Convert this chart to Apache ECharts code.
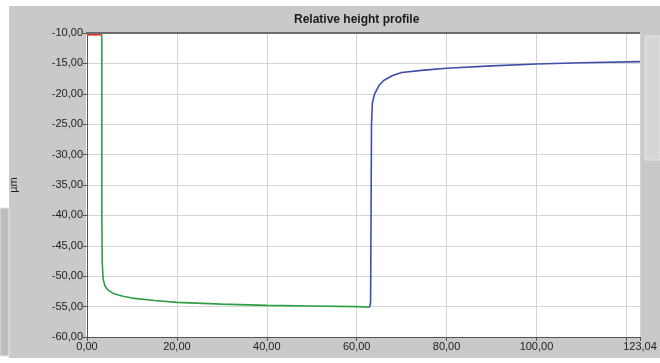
<!DOCTYPE html>
<html><head><meta charset="utf-8">
<script src="https://cdn.jsdelivr.net/npm/echarts@6/dist/echarts.min.js"></script>
<style>html,body{margin:0;padding:0;background:#fff}#c{width:660px;height:363px}</style>
</head><body><div id="c"></div>
<script>
const chartTitle = "Relative height profile";
const yAxisName = "µm";
const xTicks = [0, 20, 40, 60, 80, 100, 120, 123.04];
const yTicks = [-60, -55, -50, -45, -40, -35, -30, -25, -20, -15, -10];

const redX = [0, 0.5, 1, 1.5, 2, 2.5, 3, 3.3];
const redY = [-10.3, -10.3, -10.2, -10.3, -10.3, -10.2, -10.3, -10.3];

const greenX = [3.3, 3.3, 3.4, 3.6, 4, 4.7, 6, 8, 10, 15, 20, 30, 40, 50, 60, 62.9];
const greenY = [-10.3, -40, -48, -50.5, -51.6, -52.3, -52.9, -53.3, -53.6, -54.0, -54.3, -54.6, -54.8, -54.9, -55.0, -55.1];

const blueX = [62.9, 63.1, 63.2, 63.3, 63.5, 64, 65, 66, 68, 70, 75, 80, 90, 100, 110, 123.04];
const blueY = [-55.1, -54.2, -40, -25, -21.5, -20, -18.6, -17.8, -17.0, -16.5, -16.1, -15.8, -15.4, -15.1, -14.9, -14.7];

const pairs = (xs, ys) => xs.map((x, i) => [x, ys[i]]);
const fmt = v => v.toFixed(2).replace('.', ',');

const chart = echarts.init(document.getElementById('c'), null, {renderer: 'canvas'});
chart.setOption({
  animation: false,
  backgroundColor: '#ffffff',
  textStyle: {fontFamily: 'Liberation Sans, Arial, sans-serif'},
  graphic: [
    {type: 'rect', shape: {x: 9, y: 6, width: 651, height: 352}, style: {fill: '#c9c9c9'}, z: -10},
    {type: 'rect', shape: {x: 0, y: 208, width: 9, height: 148}, style: {fill: '#bdbdbd', stroke: '#e6e6e6', lineWidth: 1}, z: -10},
    {type: 'rect', shape: {x: 645, y: 36, width: 15, height: 124}, style: {fill: '#d6d6d6', stroke: '#e4e4e4', lineWidth: 1}, z: -9},
    {type: 'rect', shape: {x: 86, y: 33, width: 554, height: 304}, style: {fill: '#ffffff'}, z: -5},
    {type: 'line', shape: {x1: 86, y1: 33, x2: 640, y2: 33}, style: {stroke: '#6a6a6a', lineWidth: 2}, z: 10}
  ],
  title: {
    text: chartTitle, left: 289, top: 9,
    textStyle: {fontSize: 12, fontWeight: 'bold', color: '#1a1a1a', fontFamily: 'Liberation Sans, Arial, sans-serif'}
  },
  grid: {left: 86, top: 33, right: 20, bottom: 26, show: false},
  xAxis: {
    type: 'value', min: 0, max: 123.04, interval: 20,
    axisLine: {show: true, onZero: false, lineStyle: {color: '#555', width: 1}},
    axisTick: {show: true, length: 4, lineStyle: {color: '#555'}},
    splitLine: {show: true, lineStyle: {color: '#d4d4d4', width: 1}},
    axisLabel: {
      color: '#222', fontSize: 11, margin: 4, showMaxLabel: true, showMinLabel: true,
      formatter: v => (Math.abs(v - 120) < 1e-6 ? '' : fmt(v))
    }
  },
  yAxis: {
    type: 'value', min: -60, max: -10, interval: 5,
    name: yAxisName, nameLocation: 'middle', nameGap: 68,
    nameTextStyle: {color: '#222', fontSize: 11},
    axisLine: {show: true, onZero: false, lineStyle: {color: '#555', width: 1}},
    axisTick: {show: true, length: 4, lineStyle: {color: '#555'}},
    splitLine: {show: true, lineStyle: {color: '#d4d4d4', width: 1}},
    axisLabel: {color: '#222', fontSize: 11, margin: 4, formatter: v => fmt(v)}
  },
  series: [
    {type: 'line', data: pairs(redX, redY), showSymbol: false, lineStyle: {color: '#e03a30', width: 2}, z: 3},
    {type: 'line', data: pairs(greenX, greenY), showSymbol: false, lineStyle: {color: '#2f9e44', width: 1.6}, z: 3},
    {type: 'line', data: pairs(blueX, blueY), showSymbol: false, lineStyle: {color: '#3f4fa6', width: 1.6}, z: 3}
  ]
});
</script></body></html>
